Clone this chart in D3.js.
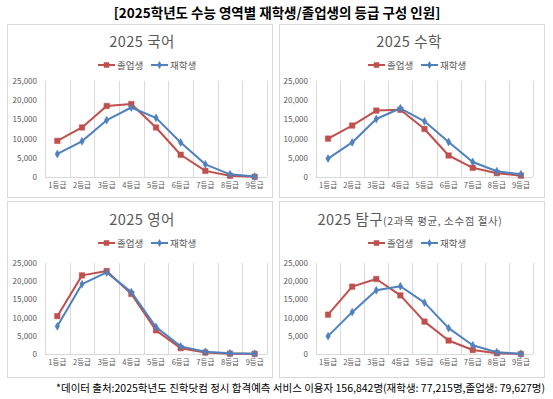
<!DOCTYPE html>
<html><head><meta charset="utf-8">
<script src="https://cdn.jsdelivr.net/npm/d3@7"></script>
<style>
html,body{margin:0;padding:0;background:#fff;}
text{font-family:"Noto Sans CJK KR","Noto Sans",sans-serif;}
</style></head>
<body>
<svg id="c" width="553" height="399"></svg>
<script>
const grades = ["1등급","2등급","3등급","4등급","5등급","6등급","7등급","8등급","9등급"];
const yTicks = [0,5000,10000,15000,20000,25000];
const seriesNames = ["졸업생","재학생"];
const subjects = ["2025 국어","2025 수학","2025 영어","2025 탐구"];
const subjectNotes = ["","","","(2과목 평균, 소수점 절사)"];

const koreanGrad = [9400,12900,18500,19000,12900,5800,1600,300,50];
const koreanCur  = [6000,9300,14800,18100,15400,9000,3300,700,100];
const mathGrad   = [10000,13400,17300,17500,12500,5600,2400,1000,350];
const mathCur    = [4800,9000,15100,17900,14500,9100,3900,1500,700];
const engGrad    = [10400,21600,22800,16500,6500,1600,400,100,50];
const engCur     = [7600,19200,22400,17000,7400,2100,600,200,100];
const inqGrad    = [10800,18500,20600,16100,8900,3700,1100,200,0];
const inqCur     = [4900,11500,17500,18600,14100,7100,2400,500,50];

const gradSeries = [koreanGrad, mathGrad, engGrad, inqGrad];
const curSeries  = [koreanCur, mathCur, engCur, inqCur];

const mainTitle = "[2025학년도 수능 영역별 재학생/졸업생의 등급 구성 인원]";
const footnote = "*데이터 출처:2025학년도 진학닷컴 정시 합격예측 서비스 이용자 156,842명(재학생: 77,215명,졸업생: 79,627명)";

// layout (positions only)
const layouts = [
  {bx:7,  by:24,  bw:265, bh:173, tx:142, ty:42,  ly:65,  px0:45,  px1:267, py0:81,  py1:177, lg:98},
  {bx:279,by:24,  bw:265, bh:173, tx:409, ty:42,  ly:65,  px0:316, px1:533, py0:81,  py1:177, lg:368},
  {bx:7,  by:201, bw:265, bh:176, tx:142, ty:220, ly:243, px0:45,  px1:267, py0:263, py1:354, lg:98},
  {bx:279,by:201, bw:265, bh:176, tx:410, ty:220, ly:243, px0:316, px1:533, py0:263, py1:354, lg:368}
];
const colors = ["#C0504D","#4F81BD"];
const gridCol = "#D9D9D9";
const labelCol = "#595959";

const svg = d3.select("#c");

svg.append("text").attr("x",277).attr("y",18).attr("text-anchor","middle")
  .attr("font-size",13.5).attr("font-weight","bold").attr("fill","#000").text(mainTitle);

subjects.forEach((name,i)=>{
  const L = layouts[i];
  const g = svg.append("g");
  g.append("rect").attr("x",L.bx+0.5).attr("y",L.by+0.5).attr("width",L.bw).attr("height",L.bh)
    .attr("fill","#fff").attr("stroke",gridCol);

  const t = g.append("text").attr("x",L.tx).attr("y",L.ty+5).attr("text-anchor","middle")
    .attr("fill",labelCol).attr("font-size",14.5).attr("letter-spacing",0.5);
  t.append("tspan").text(name);
  if (subjectNotes[i]) t.append("tspan").attr("font-size",10.5).attr("letter-spacing",0.6).text(subjectNotes[i]);

  const x = d3.scaleBand().domain(grades).range([L.px0,L.px1]);
  const y = d3.scaleLinear().domain([0,25000]).range([L.py1,L.py0]);

  const bounds = grades.map(d=>x(d)).concat([L.px1]);
  g.selectAll(".vg").data(bounds).enter().append("line")
    .attr("x1",d=>Math.round(d)+0.5).attr("x2",d=>Math.round(d)+0.5)
    .attr("y1",L.py0).attr("y2",L.py1).attr("stroke",gridCol).attr("stroke-width",1);
  g.append("line").attr("x1",L.px0).attr("x2",L.px1).attr("y1",Math.round(L.py1)+0.5).attr("y2",Math.round(L.py1)+0.5)
    .attr("stroke",gridCol);

  const ya = g.append("g").attr("transform",`translate(${L.px0-8},0)`)
    .call(d3.axisLeft(y).tickValues(yTicks).tickSize(0).tickPadding(0).tickFormat(d3.format(",")));
  ya.select(".domain").remove();
  ya.selectAll("text").attr("fill",labelCol).attr("font-size",8)
    .attr("font-family","'Noto Sans CJK KR',sans-serif");

  const xa = g.append("g").attr("transform",`translate(0,${L.py1+6})`)
    .call(d3.axisBottom(x).tickSize(0).tickPadding(0));
  xa.select(".domain").remove();
  xa.selectAll("text").attr("fill",labelCol).attr("font-size",7.5)
    .attr("font-family","'Noto Sans CJK KR',sans-serif");

  const line = d3.line().x((d,j)=>x(grades[j])+x.bandwidth()/2).y(d=>y(d));
  [gradSeries[i], curSeries[i]].forEach((vals,s)=>{
    g.append("path").datum(vals).attr("d",line).attr("fill","none")
      .attr("stroke",colors[s]).attr("stroke-width",2).attr("stroke-linejoin","round");
    const sym = d3.symbol().type(s===0?d3.symbolSquare:d3.symbolDiamond).size(s===0?30:18);
    g.selectAll(".m"+s).data(vals).enter().append("path")
      .attr("transform",(d,j)=>`translate(${x(grades[j])+x.bandwidth()/2},${y(d)})`)
      .attr("d",sym).attr("fill",colors[s]).attr("stroke",colors[s]).attr("stroke-width",0.5);
  });

  seriesNames.forEach((nm,s)=>{
    const lx = L.lg + s*53;
    g.append("line").attr("x1",lx).attr("x2",lx+17).attr("y1",L.ly).attr("y2",L.ly)
      .attr("stroke",colors[s]).attr("stroke-width",2);
    g.append("path").attr("transform",`translate(${lx+8.5},${L.ly})`)
      .attr("d",d3.symbol().type(s===0?d3.symbolSquare:d3.symbolDiamond).size(s===0?30:18)())
      .attr("fill",colors[s]);
    g.append("text").attr("x",lx+19).attr("y",L.ly+3.5).attr("font-size",9.5).attr("fill",labelCol).text(nm);
  });
});

svg.append("text").attr("x",545).attr("y",392).attr("text-anchor","end")
  .attr("font-size",10.5).attr("fill","#000").text(footnote);
</script>
</body></html>
